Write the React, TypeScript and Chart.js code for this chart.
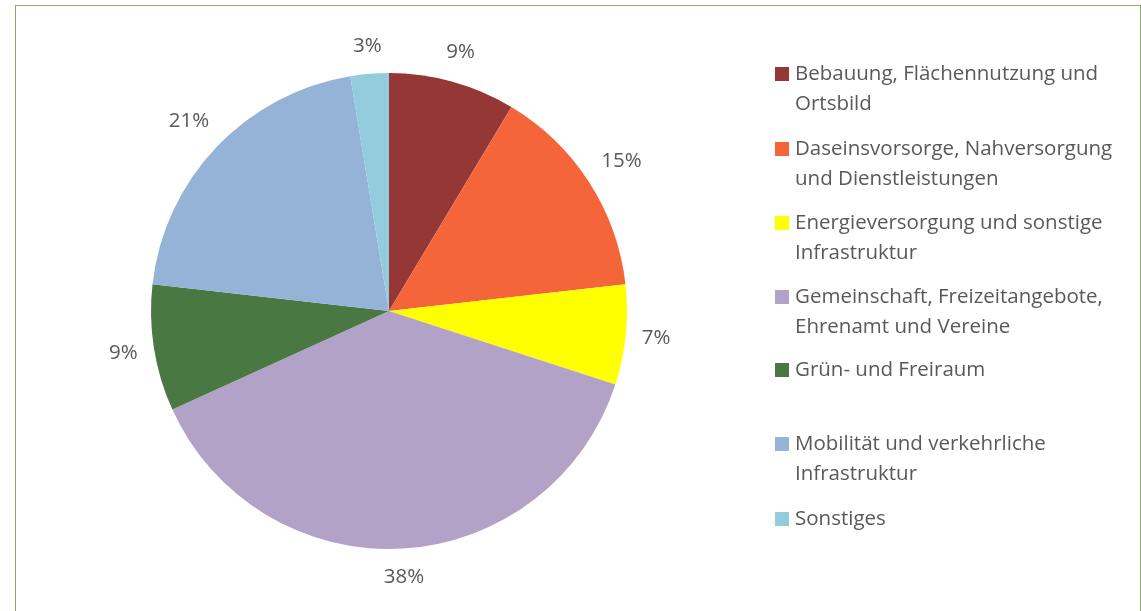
import React, { useEffect, useRef } from "react";
import { Chart, registerables } from "chart.js";

Chart.register(...registerables);

const categories: string[][] = [
  ["Bebauung, Flächennutzung und", "Ortsbild"],
  ["Daseinsvorsorge, Nahversorgung", "und Dienstleistungen"],
  ["Energieversorgung und sonstige", "Infrastruktur"],
  ["Gemeinschaft, Freizeitangebote,", "Ehrenamt und Vereine"],
  ["Grün- und Freiraum"],
  ["Mobilität und verkehrliche", "Infrastruktur"],
  ["Sonstiges"],
];

const shares: number[] = [8.6, 14.6, 6.8, 38.2, 8.6, 20.6, 2.6];

const colors: string[] = [
  "#953735",
  "#F4663A",
  "#FFFF00",
  "#B3A2C7",
  "#4A7842",
  "#95B3D7",
  "#93CDDD",
];

const FONT_FAMILY = "'Open Sans', 'Noto Sans', sans-serif";
const FONT_SIZE = 20.5;
const TEXT_COLOR = "#595959";

const overlayPlugin = {
  id: "overlay",
  beforeDraw(chart: any) {
    const ctx = chart.ctx;
    ctx.save();
    ctx.strokeStyle = "#8AAB63";
    ctx.lineWidth = 1;
    ctx.strokeRect(15.5, 5.5, 1125, 620);
    ctx.restore();
  },
  afterDraw(chart: any) {
    const ctx = chart.ctx;
    ctx.save();
    ctx.font = `${FONT_SIZE}px ${FONT_FAMILY}`;
    ctx.fillStyle = TEXT_COLOR;
    ctx.textBaseline = "middle";

    // percentage labels outside the slices
    const meta = chart.getDatasetMeta(0);
    const data = chart.data.datasets[0].data as number[];
    const total = data.reduce((a, b) => a + b, 0);
    meta.data.forEach((arc: any, i: number) => {
      const p = arc.getProps(["x", "y", "startAngle", "endAngle", "outerRadius"], true);
      const mid = (p.startAngle + p.endAngle) / 2;
      const text = `${Math.round((data[i] / total) * 100)}%`;
      const w = ctx.measureText(text).width;
      const c = Math.cos(mid);
      const s = Math.sin(mid);
      const d = p.outerRadius + 15 + Math.abs(c) * (w / 2) + Math.abs(s) * 12;
      ctx.textAlign = "center";
      ctx.fillText(text, p.x + c * d, p.y + s * d);
    });

    // legend
    const boxX = 775;
    const textX = 795;
    const slotTops = [73, 148, 222, 296, 369, 443, 518];
    const lineH = 30;
    ctx.textAlign = "left";
    categories.forEach((lines, i) => {
      const y0 = slotTops[i];
      ctx.fillStyle = colors[i];
      ctx.fillRect(boxX, y0 - 6, 14, 14);
      ctx.fillStyle = TEXT_COLOR;
      lines.forEach((ln, j) => {
        ctx.fillText(ln, textX, y0 + 1 + j * lineH);
      });
    });
    ctx.restore();
  },
};

export default function App() {
  const canvasRef = useRef<HTMLCanvasElement | null>(null);

  useEffect(() => {
    document.body.style.margin = "0";
    const canvas = canvasRef.current;
    if (!canvas) return;
    const chart = new Chart(canvas, {
      type: "pie",
      data: {
        labels: categories.map((l) => l.join(" ")),
        datasets: [
          {
            data: shares,
            backgroundColor: colors,
            borderWidth: 0,
          },
        ],
      },
      options: {
        animation: false,
        responsive: true,
        maintainAspectRatio: false,
        layout: { padding: { left: 151, top: 73, right: 514, bottom: 62 } },
        plugins: {
          legend: { display: false },
          tooltip: { enabled: false },
        },
      },
      plugins: [overlayPlugin],
    });
    return () => chart.destroy();
  }, []);

  return (
    <div style={{ width: 1141, height: 611, position: "relative", background: "#fff" }}>
      <canvas ref={canvasRef} />
    </div>
  );
}
